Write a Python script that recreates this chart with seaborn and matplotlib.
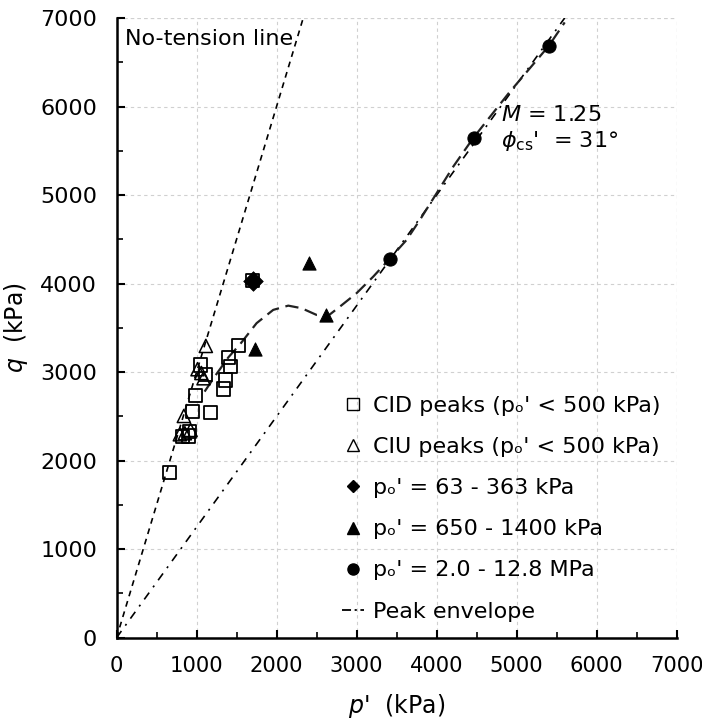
import matplotlib
matplotlib.use("Agg")
import matplotlib.pyplot as plt
from matplotlib.lines import Line2D
from matplotlib.ticker import MultipleLocator
import seaborn as sns

# ---------------- data ----------------
cid_p = [1700, 1529, 1400, 1420, 1054, 1112, 1358, 1341, 991, 950, 1179, 908, 895, 825, 666]
cid_q = [4034, 3299, 3164, 3066, 3081, 2972, 2912, 2810, 2740, 2554, 2547, 2328, 2279, 2271, 1866]

ciu_p = [1116, 1012, 1060, 1087, 841, 925, 854, 791]
ciu_q = [3296, 3033, 2990, 2931, 2505, 2347, 2310, 2298]

low_p = [1700]
low_q = [4034]

mid_p = [1733, 2404, 2612]
mid_q = [3259, 4230, 3646]

high_p = [3412, 4462, 5400]
high_q = [4279, 5650, 6683]

env_p = [1100, 1250, 1400, 1541, 1750, 1958, 2146, 2312, 2500, 2646, 2791, 2999,
         3208, 3412, 3625, 3791, 4000, 4208, 4462, 4900, 5400, 5600]
env_q = [2780, 2980, 3170, 3312, 3553, 3703, 3751, 3722, 3646, 3638, 3740, 3891,
         4079, 4279, 4494, 4720, 5021, 5322, 5650, 6150, 6683, 6950]

notension_p = [0, 2333]
notension_q = [0, 7000]

csl_p = [0, 5600]
csl_q = [0, 7000]

x_ticks = [0, 1000, 2000, 3000, 4000, 5000, 6000, 7000]
y_ticks = [0, 1000, 2000, 3000, 4000, 5000, 6000, 7000]

legend_labels = ["CID peaks (pₒ' < 500 kPa)", "CIU peaks (pₒ' < 500 kPa)",
                 "pₒ' = 63 - 363 kPa", "pₒ' = 650 - 1400 kPa",
                 "pₒ' = 2.0 - 12.8 MPa", "Peak envelope"]

# ---------------- figure ----------------
sns.set_style("white")
plt.rcParams['font.family'] = ['DejaVu Sans']
plt.rcParams['mathtext.fontset'] = 'dejavusans'
for k in ['text.color', 'axes.labelcolor', 'xtick.color', 'ytick.color']:
    plt.rcParams[k] = 'black'

fig = plt.figure(figsize=(7.02, 7.19), dpi=100)
ax = fig.add_axes([0.166, 0.113, 0.798, 0.862])

# lines
sns.lineplot(x=notension_p, y=notension_q, ax=ax, color="black", lw=1.2,
             linestyle=(0, (3.5, 3)), sort=False, zorder=2)
sns.lineplot(x=csl_p, y=csl_q, ax=ax, color="black", lw=1.2,
             linestyle=(0, (5, 4, 1.2, 4)), sort=False, zorder=2)
sns.lineplot(x=env_p, y=env_q, ax=ax, color="#222222", lw=1.6,
             linestyle=(0, (6, 3)), sort=False, zorder=2)

ms = 90
# markers
sns.scatterplot(x=cid_p, y=cid_q, ax=ax, marker="s", s=ms, facecolor="none",
                edgecolor="black", linewidth=1.3, zorder=3)
sns.scatterplot(x=ciu_p, y=ciu_q, ax=ax, marker="^", s=ms, facecolor="none",
                edgecolor="black", linewidth=1.1, zorder=3)
sns.scatterplot(x=low_p, y=low_q, ax=ax, marker="D", s=100, color="black",
                edgecolor="black", linewidth=0.5, zorder=4)
sns.scatterplot(x=mid_p, y=mid_q, ax=ax, marker="^", s=ms, color="black",
                edgecolor="black", zorder=4)
sns.scatterplot(x=high_p, y=high_q, ax=ax, marker="o", s=ms, color="black",
                edgecolor="black", zorder=4)

# axes
ax.set_xlim(0, 7000)
ax.set_ylim(0, 7000)
ax.set_xticks(x_ticks)
ax.set_yticks(y_ticks)
ax.xaxis.set_minor_locator(MultipleLocator(500))
ax.yaxis.set_minor_locator(MultipleLocator(500))
ax.tick_params(which="both", bottom=True, left=True, top=False, right=False)
ax.tick_params(which="major", direction="in", length=6, width=1.5,
               labelsize=16, colors="black")
ax.tick_params(which="minor", direction="in", length=4, width=1.2)
ax.tick_params(axis="x", which="major", pad=13, labelsize=15.2)
ax.tick_params(axis="y", which="major", pad=14)
for s in ["top", "right"]:
    ax.spines[s].set_visible(False)
for s in ["left", "bottom"]:
    ax.spines[s].set_linewidth(1.8)
    ax.spines[s].set_color("black")
ax.grid(True, which="major", color="#d0d0d0", linestyle=(0, (3, 3)), lw=0.8)
ax.set_axisbelow(True)
ax.axvline(7000, color="#d0d0d0", linestyle=(0, (3, 3)), lw=0.8, zorder=0)
ax.axhline(7000, color="#d0d0d0", linestyle=(0, (3, 3)), lw=0.8, zorder=0)

ax.set_xlabel("$p$'  (kPa)", fontsize=17)
ax.set_ylabel("$q$  (kPa)", fontsize=17)
ax.xaxis.set_label_coords(0.5, -0.087)
ax.yaxis.set_label_coords(-0.155, 0.5)

# annotations
ax.text(104, 6760, "No-tension line", fontsize=16, va="center", ha="left")
ax.text(4800, 5900, "$M$ = 1.25", fontsize=16, va="center", ha="left")
ax.text(4800, 5610, r"$\phi_{\rm cs}$'  = 31°", fontsize=16, va="center", ha="left")

# legend
handles = [
    Line2D([], [], marker="s", ls="none", mfc="none", mec="black", ms=8, mew=1.0),
    Line2D([], [], marker="^", ls="none", mfc="none", mec="black", ms=8, mew=1.0),
    Line2D([], [], marker="D", ls="none", mfc="black", mec="black", ms=6),
    Line2D([], [], marker="^", ls="none", mfc="black", mec="black", ms=8),
    Line2D([], [], marker="o", ls="none", mfc="black", mec="black", ms=8),
    Line2D([], [], color="black", lw=1.3, ls=(0, (5, 2, 1.2, 2))),
]
ax.legend(handles, legend_labels, loc="upper left", bbox_to_anchor=(0.382, 0.408),
          frameon=False, fontsize=16, handlelength=1.0, handletextpad=0.4,
          labelspacing=0.95, borderpad=0)

fig.savefig("out.png", dpi=100)
